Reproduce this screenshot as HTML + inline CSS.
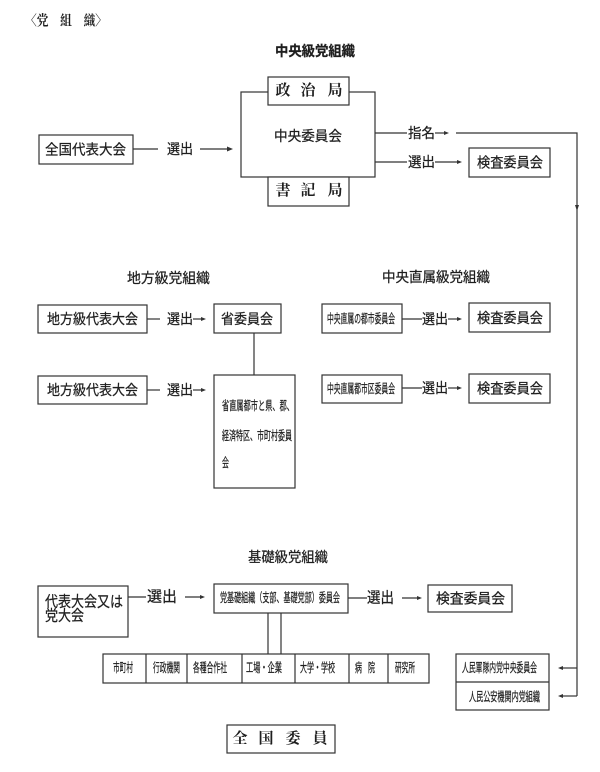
<!DOCTYPE html>
<html>
<head>
<meta charset="utf-8">
<style>
html,body{margin:0;padding:0;background:#fff;}
svg{display:block;}
.s{font-family:"Liberation Sans","Noto Sans CJK JP",sans-serif;fill:#1e1e1e;stroke:#1e1e1e;stroke-width:0.25;}
.m{font-family:"Liberation Serif","Noto Serif CJK SC","Noto Serif CJK JP",serif;fill:#1e1e1e;font-weight:bold;}
rect{fill:#fff;stroke:#333;stroke-width:1.2;}
line,polyline{stroke:#333;stroke-width:1.2;fill:none;}
.ah{fill:#333;stroke:none;}
</style>
</head>
<body>
<svg width="600" height="772" viewBox="0 0 600 772" xmlns="http://www.w3.org/2000/svg">

<!-- Title -->
<text class="m" x="25" y="22" font-size="14" dominant-baseline="central" textLength="82" lengthAdjust="spacingAndGlyphs">〈党　組　織〉</text>
<text class="s" x="275" y="51" font-size="14" font-weight="bold" dominant-baseline="central" textLength="80" lengthAdjust="spacingAndGlyphs">中央級党組織</text>

<!-- Central committee block -->
<rect x="241" y="92" width="134" height="85"/>
<rect x="268" y="77" width="81" height="28"/>
<text class="m" x="283" y="91" font-size="15" text-anchor="middle" dominant-baseline="central">政</text>
<text class="m" x="308" y="91" font-size="15" text-anchor="middle" dominant-baseline="central">治</text>
<text class="m" x="335" y="91" font-size="15" text-anchor="middle" dominant-baseline="central">局</text>
<rect x="268" y="177" width="81" height="29"/>
<text class="m" x="283" y="191" font-size="15" text-anchor="middle" dominant-baseline="central">書</text>
<text class="m" x="308" y="191" font-size="15" text-anchor="middle" dominant-baseline="central">記</text>
<text class="m" x="335" y="191" font-size="15" text-anchor="middle" dominant-baseline="central">局</text>
<text class="s" x="274" y="136" font-size="14" dominant-baseline="central" textLength="68" lengthAdjust="spacingAndGlyphs">中央委員会</text>

<rect x="39" y="135" width="94" height="29"/>
<text class="s" x="45" y="149.5" font-size="14" dominant-baseline="central" textLength="81" lengthAdjust="spacingAndGlyphs">全国代表大会</text>
<line x1="133" y1="149" x2="158" y2="149"/>
<text class="s" x="167" y="149" font-size="14" dominant-baseline="central" textLength="26" lengthAdjust="spacingAndGlyphs">選出</text>
<line x1="200" y1="149" x2="230" y2="149"/>
<polygon class="ah" points="233,149 227,146.5 227,151.5"/>

<!-- 指名 -->
<line x1="375" y1="133" x2="407" y2="133"/>
<text class="s" x="408" y="133" font-size="14" dominant-baseline="central" textLength="27" lengthAdjust="spacingAndGlyphs">指名</text>
<line x1="435" y1="133" x2="446" y2="133"/>
<polygon class="ah" points="449,133 444,131 444,135"/>
<polyline points="456,133 577,133 577,696"/>
<polygon class="ah" points="577,211 575,205 579,205"/>

<!-- 選出 検査 -->
<line x1="375" y1="162" x2="407" y2="162"/>
<text class="s" x="408" y="162" font-size="14" dominant-baseline="central" textLength="27" lengthAdjust="spacingAndGlyphs">選出</text>
<line x1="435" y1="162" x2="459" y2="162"/>
<polygon class="ah" points="462,162 457,160 457,164"/>
<rect x="469" y="148" width="81" height="29"/>
<text class="s" x="477" y="162.5" font-size="14" dominant-baseline="central" textLength="66" lengthAdjust="spacingAndGlyphs">検査委員会</text>

<!-- 地方級党組織 -->
<text class="s" x="127" y="278" font-size="14" dominant-baseline="central" textLength="83" lengthAdjust="spacingAndGlyphs">地方級党組織</text>
<text class="s" x="382" y="277" font-size="14" dominant-baseline="central" textLength="108" lengthAdjust="spacingAndGlyphs">中央直属級党組織</text>

<rect x="38" y="305" width="109" height="28"/>
<text class="s" x="47" y="319" font-size="14" dominant-baseline="central" textLength="91" lengthAdjust="spacingAndGlyphs">地方級代表大会</text>
<line x1="147" y1="319" x2="160" y2="319"/>
<text class="s" x="167" y="319" font-size="14" dominant-baseline="central" textLength="26" lengthAdjust="spacingAndGlyphs">選出</text>
<line x1="193" y1="319" x2="203" y2="319"/>
<polygon class="ah" points="206,319 201,317 201,321"/>
<rect x="214" y="304" width="67" height="29"/>
<text class="s" x="221" y="319" font-size="14" dominant-baseline="central" textLength="52" lengthAdjust="spacingAndGlyphs">省委員会</text>
<line x1="254" y1="333" x2="254" y2="375"/>

<rect x="38" y="376" width="109" height="28"/>
<text class="s" x="47" y="390" font-size="14" dominant-baseline="central" textLength="91" lengthAdjust="spacingAndGlyphs">地方級代表大会</text>
<line x1="147" y1="390" x2="160" y2="390"/>
<text class="s" x="167" y="390" font-size="14" dominant-baseline="central" textLength="26" lengthAdjust="spacingAndGlyphs">選出</text>
<line x1="193" y1="390" x2="203" y2="390"/>
<polygon class="ah" points="206,390 201,388 201,392"/>
<rect x="214" y="375" width="81" height="113"/>
<text class="s" x="222" y="406" font-size="12.5" dominant-baseline="central" textLength="72" lengthAdjust="spacingAndGlyphs">省直属都市と県、郡、</text>
<text class="s" x="222" y="436" font-size="12.5" dominant-baseline="central" textLength="70" lengthAdjust="spacingAndGlyphs">経済特区、市町村委員</text>
<text class="s" x="222" y="463" font-size="12.5" dominant-baseline="central" textLength="7" lengthAdjust="spacingAndGlyphs">会</text>

<!-- 中央直属 -->
<rect x="322" y="304" width="80" height="29"/>
<text class="s" x="327" y="319" font-size="12.5" dominant-baseline="central" textLength="68" lengthAdjust="spacingAndGlyphs">中央直属の都市委員会</text>
<line x1="402" y1="319" x2="422" y2="319"/>
<text class="s" x="422" y="319" font-size="14" dominant-baseline="central" textLength="26" lengthAdjust="spacingAndGlyphs">選出</text>
<line x1="448" y1="319" x2="459" y2="319"/>
<polygon class="ah" points="462,319 457,317 457,321"/>
<rect x="469" y="303" width="81" height="29"/>
<text class="s" x="477" y="318" font-size="14" dominant-baseline="central" textLength="66" lengthAdjust="spacingAndGlyphs">検査委員会</text>

<rect x="322" y="375" width="80" height="28"/>
<text class="s" x="327" y="389" font-size="12.5" dominant-baseline="central" textLength="68" lengthAdjust="spacingAndGlyphs">中央直属都市区委員会</text>
<line x1="402" y1="388" x2="422" y2="388"/>
<text class="s" x="422" y="388" font-size="14" dominant-baseline="central" textLength="26" lengthAdjust="spacingAndGlyphs">選出</text>
<line x1="448" y1="388" x2="459" y2="388"/>
<polygon class="ah" points="462,388 457,386 457,390"/>
<rect x="469" y="374" width="81" height="29"/>
<text class="s" x="477" y="388.5" font-size="14" dominant-baseline="central" textLength="66" lengthAdjust="spacingAndGlyphs">検査委員会</text>

<!-- 基礎級党組織 -->
<text class="s" x="248" y="557" font-size="14" dominant-baseline="central" textLength="80" lengthAdjust="spacingAndGlyphs">基礎級党組織</text>

<rect x="38" y="586" width="90" height="51"/>
<text class="s" x="45" y="602" font-size="15" dominant-baseline="central" textLength="78" lengthAdjust="spacingAndGlyphs">代表大会又は</text>
<text class="s" x="45" y="616" font-size="15" dominant-baseline="central" textLength="39" lengthAdjust="spacingAndGlyphs">党大会</text>
<line x1="128" y1="597" x2="146" y2="597"/>
<text class="s" x="147" y="597" font-size="15" dominant-baseline="central" textLength="30" lengthAdjust="spacingAndGlyphs">選出</text>
<line x1="185" y1="597" x2="202" y2="597"/>
<polygon class="ah" points="205,597 200,595 200,599"/>

<rect x="214" y="584" width="134" height="29"/>
<text class="s" x="220" y="598" font-size="12.5" dominant-baseline="central" textLength="120" lengthAdjust="spacingAndGlyphs">党基礎組織（支部、基礎党部）委員会</text>
<line x1="268" y1="613" x2="268" y2="654"/>
<line x1="281" y1="613" x2="281" y2="654"/>

<line x1="348" y1="598" x2="367" y2="598"/>
<text class="s" x="367" y="598" font-size="15" dominant-baseline="central" textLength="27" lengthAdjust="spacingAndGlyphs">選出</text>
<line x1="402" y1="598" x2="419" y2="598"/>
<polygon class="ah" points="422,598 417,596 417,600"/>
<rect x="428" y="585" width="84" height="27"/>
<text class="s" x="436" y="598.5" font-size="14" dominant-baseline="central" textLength="69" lengthAdjust="spacingAndGlyphs">検査委員会</text>

<!-- bottom row -->
<rect x="103" y="654" width="326" height="29"/>
<line x1="146" y1="654" x2="146" y2="683"/>
<line x1="187" y1="654" x2="187" y2="683"/>
<line x1="242" y1="654" x2="242" y2="683"/>
<line x1="295" y1="654" x2="295" y2="683"/>
<line x1="349" y1="654" x2="349" y2="683"/>
<line x1="388" y1="654" x2="388" y2="683"/>
<text class="s" x="113" y="668" font-size="12.5" dominant-baseline="central" textLength="20" lengthAdjust="spacingAndGlyphs">市町村</text>
<text class="s" x="153" y="668" font-size="12.5" dominant-baseline="central" textLength="27" lengthAdjust="spacingAndGlyphs">行政機関</text>
<text class="s" x="193" y="668" font-size="12.5" dominant-baseline="central" textLength="34" lengthAdjust="spacingAndGlyphs">各種合作社</text>
<text class="s" x="246" y="668" font-size="12.5" dominant-baseline="central" textLength="36" lengthAdjust="spacingAndGlyphs">工場・企業</text>
<text class="s" x="300" y="668" font-size="12.5" dominant-baseline="central" textLength="35" lengthAdjust="spacingAndGlyphs">大学・学校</text>
<text class="s" x="355" y="668" font-size="12.5" dominant-baseline="central" textLength="7" lengthAdjust="spacingAndGlyphs">病</text>
<text class="s" x="368" y="668" font-size="12.5" dominant-baseline="central" textLength="7" lengthAdjust="spacingAndGlyphs">院</text>
<text class="s" x="395" y="668" font-size="12.5" dominant-baseline="central" textLength="20" lengthAdjust="spacingAndGlyphs">研究所</text>

<!-- 人民軍隊 -->
<rect x="456" y="654" width="93" height="56"/>
<line x1="456" y1="682" x2="549" y2="682"/>
<text class="s" x="462" y="668" font-size="12.5" dominant-baseline="central" textLength="75" lengthAdjust="spacingAndGlyphs">人民軍隊内党中央委員会</text>
<text class="s" x="469" y="697" font-size="12.5" dominant-baseline="central" textLength="71" lengthAdjust="spacingAndGlyphs">人民公安機関内党組織</text>
<line x1="577" y1="668" x2="561" y2="668"/>
<polygon class="ah" points="558,668 563,666 563,670"/>
<line x1="577" y1="696" x2="561" y2="696"/>
<polygon class="ah" points="558,696 563,694 563,698"/>

<!-- 全国委員 -->
<rect x="227" y="725" width="108" height="28"/>
<text class="m" x="240" y="739" font-size="15" text-anchor="middle" dominant-baseline="central">全</text>
<text class="m" x="266" y="739" font-size="15" text-anchor="middle" dominant-baseline="central">国</text>
<text class="m" x="293" y="739" font-size="15" text-anchor="middle" dominant-baseline="central">委</text>
<text class="m" x="320" y="739" font-size="15" text-anchor="middle" dominant-baseline="central">員</text>

</svg>
</body>
</html>
